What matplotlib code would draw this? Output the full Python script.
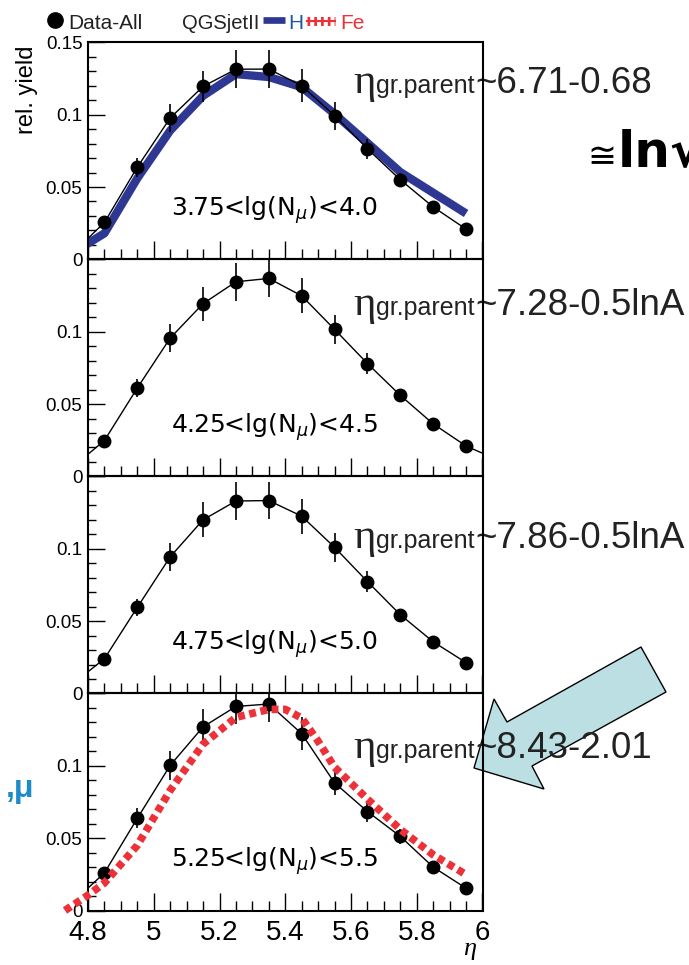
import numpy as np
import matplotlib
matplotlib.use("Agg")
import matplotlib.pyplot as plt
from matplotlib.lines import Line2D
from matplotlib.patches import Polygon
from matplotlib.ticker import MultipleLocator

plt.rcParams["font.family"] = ["Liberation Sans", "DejaVu Sans"]
plt.rcParams["mathtext.fontset"] = "dejavusans"

W, H = 689, 965
nan = np.nan

# bin centres (the outer ones only carry the line off the frame)
eta = [4.75, 4.85, 4.95, 5.05, 5.15, 5.25, 5.35, 5.45, 5.55, 5.65, 5.75, 5.85, 5.95, 6.05]

yield_1 = [0.0035, 0.0255, 0.0637, 0.0977, 0.1195, 0.1314, 0.1315, 0.120, 0.0993, 0.0764, 0.055, 0.0362, 0.0209, nan]
err_1 = [0, 0.003, 0.0065, 0.0095, 0.011, 0.013, 0.013, 0.0115, 0.0097, 0.007, 0.0045, 0.0025, 0.002, 0]
yield_2 = [0.0058, 0.0248, 0.0611, 0.0956, 0.1194, 0.1345, 0.1368, 0.1248, 0.1016, 0.078, 0.056, 0.0363, 0.021, 0.011]
err_2 = [0, 0.003, 0.006, 0.0095, 0.0117, 0.013, 0.013, 0.012, 0.010, 0.007, 0.004, 0.0025, 0.002, 0]
yield_3 = [0.006, 0.024, 0.0595, 0.0944, 0.120, 0.133, 0.1333, 0.1225, 0.101, 0.0773, 0.0544, 0.0357, 0.0213, nan]
err_3 = [0, 0.003, 0.0057, 0.0095, 0.012, 0.0128, 0.0128, 0.0122, 0.010, 0.0074, 0.0035, 0.0025, 0.002, 0]
yield_4 = [0.005, 0.026, 0.0637, 0.1003, 0.1269, 0.141, 0.1427, 0.1222, 0.0882, 0.0684, 0.0512, 0.030, 0.0154, nan]
err_4 = [0, 0.003, 0.007, 0.010, 0.0126, 0.0118, 0.0124, 0.0112, 0.0083, 0.007, 0.005, 0.003, 0.002, 0]

# QGSjetII proton (panel 1) and iron (panel 4)
h_eta = [4.75, 4.85, 4.95, 5.05, 5.15, 5.25, 5.35, 5.45, 5.55, 5.65, 5.75, 5.85, 5.95]
h_yield = [0.004, 0.018, 0.056, 0.089, 0.113, 0.128, 0.126, 0.119, 0.1005, 0.0805, 0.0603, 0.046, 0.0317]
fe_eta = [4.73, 4.80, 4.85, 4.95, 5.05, 5.15, 5.25, 5.35, 5.40, 5.45, 5.50, 5.55, 5.65, 5.75, 5.85, 5.95]
fe_yield = [0.0, 0.0106, 0.019, 0.045, 0.083, 0.115, 0.1335, 0.139, 0.139, 0.133, 0.117, 0.099, 0.077, 0.056, 0.0385, 0.0248]

yields = [yield_1, yield_2, yield_3, yield_4]
errors = [err_1, err_2, err_3, err_4]
bin_labels = [r"3.75<lg(N$_{\mu}$)<4.0", r"4.25<lg(N$_{\mu}$)<4.5",
              r"4.75<lg(N$_{\mu}$)<5.0", r"5.25<lg(N$_{\mu}$)<5.5"]
formulas = ["~6.71-0.68", "~7.28-0.5lnA", "~7.86-0.5lnA", "~8.43-2.01"]
xtick_vals = [4.8, 5.0, 5.2, 5.4, 5.6, 5.8, 6.0]
xtick_labels = ["4.8", "5", "5.2", "5.4", "5.6", "5.8", "6"]
ytick_vals = [0, 0.05, 0.1, 0.15]

BLUE_LINE = "#2e3892"
RED = "#ec3138"
INK = "#222222"

fig = plt.figure(figsize=(W / 100, H / 100), dpi=100)

# overlay in pixel units, under the panels so the frames stay on top
over = fig.add_axes([0, 0, 1, 1], zorder=-1)
over.set_xlim(0, W)
over.set_ylim(H, 0)
over.axis("off")

left, width = 88 / W, 394.5 / W
bottom0, height = 1 - 910.5 / H, 217.05 / H

axes = []
for i in range(4):
    ax = fig.add_axes([left, bottom0 + (3 - i) * height, width, height])
    axes.append(ax)
    ax.patch.set_visible(False)
    ax.set_xlim(4.8, 6.0)
    ax.set_ylim(0, 0.15)
    ax.set_xticks(xtick_vals)
    ax.set_xticklabels(xtick_labels if i == 3 else [])
    ax.xaxis.set_minor_locator(MultipleLocator(0.05))
    ax.set_yticks(ytick_vals)
    ax.set_yticklabels(["0", "0.05", "0.1", "0.15" if i == 0 else ""])
    ax.yaxis.set_minor_locator(MultipleLocator(0.01))
    ax.tick_params(which="both", direction="in", top=False, right=False)
    ax.tick_params(axis="y", which="major", length=12, width=1, labelsize=13.5, pad=4)
    ax.tick_params(axis="y", which="minor", length=6, width=1)
    ax.tick_params(axis="x", which="major", length=13, width=1, labelsize=20, pad=7)
    ax.tick_params(axis="x", which="minor", length=7, width=1)
    for sp in ax.spines.values():
        sp.set_linewidth(1.5)

    ax.errorbar(eta, yields[i], yerr=errors[i], fmt="o-", color="black",
                ms=9, lw=1, elinewidth=1.2, capsize=0, zorder=3)
    ax.text(0.21, 0.2, bin_labels[i], transform=ax.transAxes, fontsize=18,
            family="DejaVu Sans", ha="left", va="baseline")

axes[0].plot(h_eta, h_yield, color=BLUE_LINE, lw=6, solid_capstyle="butt", zorder=2)
axes[3].plot(fe_eta, fe_yield, color=RED, lw=5.5, linestyle=(0, (0.9, 0.6)),
             dash_capstyle="butt", clip_on=False, zorder=4)

# legend row
over.plot([55], [20], "o", color="black", ms=11)
over.text(68, 29, "Data-All", fontsize=15, color=INK, va="baseline")
over.text(182, 29, "QGSjetII", fontsize=14.5, color=INK, va="baseline")
over.add_line(Line2D([263, 285], [20, 20], color=BLUE_LINE, lw=4.8, solid_capstyle="butt"))
over.text(288, 29, "H", fontsize=15, color="#1f55a6", va="baseline")
over.add_line(Line2D([307, 335], [20.5, 20.5], color=RED, lw=1.5))
over.add_line(Line2D([307, 335], [20.5, 20.5], color=RED, lw=6.5, linestyle=(0, (0.3, 0.45)),
                     dash_capstyle="butt"))
over.text(340, 29, "Fe", fontsize=15, color=RED, va="baseline")

over.text(27, 90, "rel. yield", fontsize=17, rotation=90, ha="center", va="center")
over.text(470, 955, "η", fontsize=19, family="Liberation Serif", style="italic",
          ha="center", va="baseline")

# arrow pointing at the iron panel
arrow = Polygon([(641, 647), (666, 692), (532, 766), (544, 789), (474, 768), (494, 699), (507, 722)],
                closed=True, facecolor="#bbdfe3", edgecolor="black", lw=1, zorder=1)
over.add_patch(arrow)

baselines = [93, 315, 548, 758]
for yb, formula in zip(baselines, formulas):
    over.text(353, yb, "η", fontsize=31, family="Liberation Serif", color=INK,
              va="baseline", zorder=3)
    over.text(376, yb, "gr.parent", fontsize=18, color=INK, va="baseline", zorder=3)
    over.text(475, yb, formula, fontsize=26.5, color=INK, va="baseline", zorder=3)

over.text(587, 167, "≅", fontsize=25, family="DejaVu Sans", color="black", va="baseline")
over.text(618, 166, "ln√", fontsize=36, family="DejaVu Sans", weight="bold", color="black",
          va="baseline", clip_on=True)
over.text(34, 797, ",μ", fontsize=23, weight="bold", color="#1d8ac9", ha="right", va="baseline")

fig.savefig("out.png", dpi=100)
